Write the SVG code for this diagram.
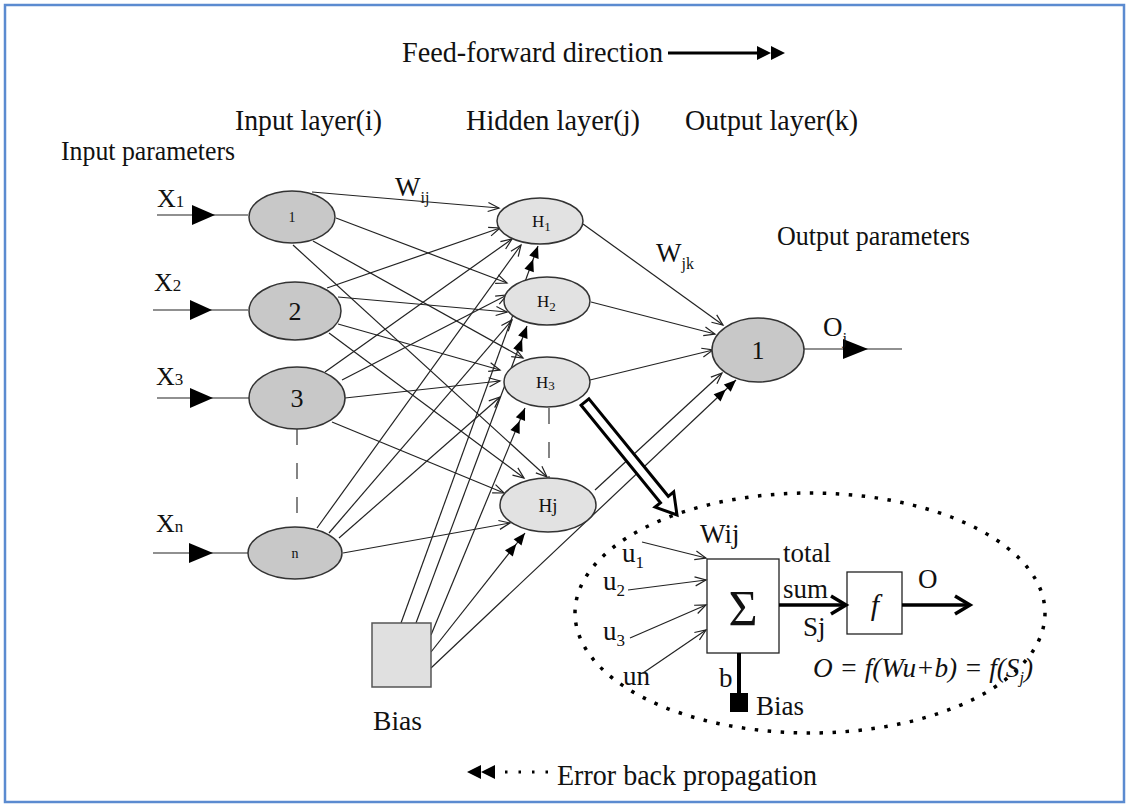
<svg xmlns="http://www.w3.org/2000/svg" width="1129" height="807" viewBox="0 0 1129 807" font-family="'Liberation Serif', Tinos, 'Times New Roman', Times, serif">
<defs>
<style>
text{font-family:"Liberation Serif",Tinos,"Times New Roman",Times,serif;fill:#111}
.ln{stroke:#222;stroke-width:1.2;fill:none}
.ia{marker-end:url(#open)}
.ba{marker-end:url(#dbl)}
.inode{fill:#c8c8c8;stroke:#333;stroke-width:1.5}
.hnode{fill:#e2e2e2;stroke:#333;stroke-width:1.5}
.dash{stroke:#333;stroke-width:1.2;stroke-dasharray:16 18;fill:none}
.h{font-size:29px}
.p{font-size:27px}
.x{font-size:26px}
.thick{stroke:#000;stroke-width:3.5;fill:none}
</style>
<marker id="open" markerUnits="userSpaceOnUse" viewBox="-12 -6 14 12" refX="0" refY="0" markerWidth="14" markerHeight="12" orient="auto"><path d="M-11,-4.5 L0,0 L-11,4.5" fill="none" stroke="#222" stroke-width="1.2"/></marker>
<marker id="dbl" markerUnits="userSpaceOnUse" viewBox="-28 -7 30 14" refX="0" refY="0" markerWidth="30" markerHeight="14" orient="auto"><path d="M0,0 L-12,-5 L-12,5 Z M-14,0 L-26,-5 L-26,5 Z" fill="#000"/></marker>
</defs>
<rect x="0" y="0" width="1129" height="807" fill="#fff"/>
<rect x="5" y="5" width="1119" height="797" fill="none" stroke="#5b8bd0" stroke-width="2.5"/>

<g id="titles">
<text x="402" y="62" class="h" textLength="261" lengthAdjust="spacingAndGlyphs">Feed-forward direction</text>
<line x1="668" y1="53" x2="760" y2="53" stroke="#000" stroke-width="3"/>
<polygon points="757,46 771,53 757,60" fill="#000"/>
<polygon points="771,46 785,53 771,60" fill="#000"/>
<text x="235" y="130" class="h" textLength="147" lengthAdjust="spacingAndGlyphs">Input layer(i)</text>
<text x="466" y="130" class="h" textLength="174" lengthAdjust="spacingAndGlyphs">Hidden layer(j)</text>
<text x="685" y="130" class="h" textLength="173" lengthAdjust="spacingAndGlyphs">Output layer(k)</text>
<text x="61" y="160" class="p" textLength="174" lengthAdjust="spacingAndGlyphs">Input parameters</text>
<text x="777" y="245" class="p" textLength="193" lengthAdjust="spacingAndGlyphs">Output parameters</text>
<text x="395" y="196" class="p">W<tspan font-size="16" dy="7">ij</tspan></text>
<text x="656" y="262" class="p">W<tspan font-size="16" dy="7">jk</tspan></text>
</g>

<g id="connectors">
<line class="ln" x1="157" y1="215" x2="248" y2="215"/>
<polygon points="192,205 215,215 192,225" fill="#000"/>
<line class="ln" x1="153" y1="310" x2="248" y2="310"/>
<polygon points="190,300 212,310 190,320" fill="#000"/>
<line class="ln" x1="157" y1="398" x2="249" y2="398"/>
<polygon points="190,388 213,398 190,408" fill="#000"/>
<line class="ln" x1="153" y1="553" x2="248" y2="553"/>
<polygon points="189,543 213,553 189,563" fill="#000"/>
<line class="ln ia" x1="312" y1="192" x2="499" y2="208"/>
<line class="ln ia" x1="327" y1="288" x2="500" y2="228"/>
<line class="ln ia" x1="325" y1="372" x2="512" y2="239"/>
<line class="ln ia" x1="317" y1="528" x2="521" y2="245"/>
<line class="ln ia" x1="336" y1="218" x2="507" y2="283"/>
<line class="ln ia" x1="342" y1="380" x2="507" y2="295"/>
<line class="ln ia" x1="338" y1="297" x2="507" y2="312"/>
<line class="ln ia" x1="329" y1="533" x2="512" y2="320"/>
<line class="ln ia" x1="313" y1="241" x2="523" y2="358"/>
<line class="ln ia" x1="338" y1="324" x2="500" y2="370"/>
<line class="ln ia" x1="345" y1="398" x2="500" y2="381"/>
<line class="ln ia" x1="339" y1="538" x2="500" y2="397"/>
<line class="ln ia" x1="293" y1="245" x2="547" y2="477"/>
<line class="ln ia" x1="329" y1="333" x2="524" y2="478"/>
<line class="ln ia" x1="332" y1="422" x2="504" y2="493"/>
<line class="ln ia" x1="343" y1="553" x2="510" y2="523"/>
<line class="ln ba" x1="401" y1="623" x2="538" y2="246"/>
<line class="ln ba" x1="416" y1="623" x2="527" y2="326"/>
<line class="ln ba" x1="431" y1="635" x2="525" y2="408"/>
<line class="ln ba" x1="431" y1="652" x2="525" y2="533"/>
<line class="ln ba" x1="431" y1="668" x2="736" y2="380"/>
<line class="ln ia" x1="583" y1="224" x2="723" y2="325"/>
<line class="ln ia" x1="591" y1="302" x2="715" y2="334"/>
<line class="ln ia" x1="590" y1="380" x2="713" y2="350"/>
<line class="ln ia" x1="595" y1="490" x2="722" y2="373"/>
<line class="ln" x1="804" y1="349" x2="902" y2="349"/>
<polygon points="843,339 868,349 843,359" fill="#000"/>
<line class="dash" x1="297" y1="429" x2="297" y2="528"/>
<line class="dash" x1="549" y1="408" x2="549" y2="478"/>
<polygon points="581.1,405.2 660.5,502.7 655.1,507.1 677,515 673.7,491.9 668.3,496.3 588.9,398.8" fill="#fff" stroke="#000" stroke-width="3" stroke-linejoin="miter"/>
</g>

<g id="input-1"><ellipse class="inode" cx="292" cy="217" rx="43" ry="26"/><text x="292" y="222" font-size="14" text-anchor="middle">1</text></g>
<g id="input-2"><ellipse class="inode" cx="295" cy="311" rx="46" ry="29"/><text x="295" y="320" font-size="26" text-anchor="middle">2</text></g>
<g id="input-3"><ellipse class="inode" cx="297" cy="398" rx="48" ry="31"/><text x="297" y="407" font-size="26" text-anchor="middle">3</text></g>
<g id="input-n"><ellipse class="inode" cx="295" cy="553" rx="47" ry="26"/><text x="295" y="558" font-size="14" text-anchor="middle">n</text></g>
<g id="x-labels">
<text x="157" y="207" class="x">X<tspan font-size="17">1</tspan></text>
<text x="154" y="291" class="x">X<tspan font-size="17">2</tspan></text>
<text x="156" y="385" class="x">X<tspan font-size="17">3</tspan></text>
<text x="156" y="532" class="x">X<tspan font-size="17">n</tspan></text>
</g>

<g id="hidden-1"><ellipse class="hnode" cx="540" cy="221" rx="43" ry="23"/><text x="532" y="227" font-size="17">H<tspan font-size="13" dy="4">1</tspan></text></g>
<g id="hidden-2"><ellipse class="hnode" cx="547" cy="301" rx="43" ry="24"/><text x="537" y="307" font-size="17">H<tspan font-size="13" dy="4">2</tspan></text></g>
<g id="hidden-3"><ellipse class="hnode" cx="547" cy="382" rx="43" ry="25"/><text x="536" y="388" font-size="17">H<tspan font-size="13" dy="2">3</tspan></text></g>
<g id="hidden-j"><ellipse class="hnode" cx="548" cy="505" rx="48" ry="27"/><text x="548" y="512" font-size="19" text-anchor="middle">Hj</text></g>

<g id="output-1"><ellipse class="inode" cx="758" cy="350" rx="46" ry="32"/><text x="758" y="359" font-size="26" text-anchor="middle">1</text>
<text x="823" y="336" class="p">O<tspan font-size="16" dy="8">j</tspan></text></g>

<g id="bias"><rect x="372" y="623" width="59" height="64" fill="#e0e0e0" stroke="#555" stroke-width="1.5"/>
<text x="373" y="730" class="p" textLength="49" lengthAdjust="spacingAndGlyphs">Bias</text></g>

<g id="neuron">
<ellipse cx="810" cy="613" rx="235" ry="120" fill="none" stroke="#000" stroke-width="3.5" stroke-dasharray="3.5 9.5"/>
<rect x="707" y="559" width="72" height="94" fill="#fff" stroke="#222" stroke-width="1.3"/>
<text x="743" y="625" font-size="50" text-anchor="middle">Σ</text>
<rect x="847" y="572" width="55" height="62" fill="#fff" stroke="#222" stroke-width="1.3"/>
<text x="875" y="615" font-size="30" font-style="italic" text-anchor="middle">f</text>
<line class="thick" x1="779" y1="605" x2="844" y2="605"/>
<path class="thick" d="M831,596 L846,605 L831,614"/>
<line class="thick" x1="902" y1="605" x2="968" y2="605"/>
<path class="thick" d="M955,596 L970,605 L955,614"/>
<text x="918" y="588" class="p">O</text>
<text x="783" y="562" class="p">total</text>
<text x="783" y="598" class="p">sum</text>
<text x="803" y="636" class="p">Sj</text>
<text x="700" y="543" class="p">Wij</text>
<text x="622" y="562" class="p">u<tspan font-size="17" dy="6">1</tspan></text>
<text x="603" y="590" class="p">u<tspan font-size="17" dy="6">2</tspan></text>
<text x="603" y="640" class="p">u<tspan font-size="17" dy="6">3</tspan></text>
<text x="623" y="685" class="p">un</text>
<line class="ln ia" x1="642" y1="542" x2="706" y2="558"/>
<line class="ln ia" x1="628" y1="590" x2="706" y2="580"/>
<line class="ln ia" x1="630" y1="638" x2="706" y2="605"/>
<line class="ln ia" x1="643" y1="673" x2="706" y2="630"/>
<text x="719" y="687" class="p">b</text>
<line x1="739" y1="653" x2="739" y2="697" stroke="#000" stroke-width="4"/>
<rect x="730" y="693" width="18" height="19" fill="#000"/>
<text x="756" y="715" class="p">Bias</text>
<text x="813" y="677" class="p" font-style="italic" textLength="220" lengthAdjust="spacingAndGlyphs">O = f(Wu+b) = f(S<tspan font-size="16" dy="6">j</tspan><tspan dy="-6">)</tspan></text>
</g>

<g id="legend">
<polygon points="467,772 481,765 481,779" fill="#000"/>
<polygon points="481,772 495,765 495,779" fill="#000"/>
<line x1="505" y1="772" x2="548" y2="772" stroke="#000" stroke-width="3" stroke-dasharray="2.5 11"/>
<text x="557" y="785" class="h" textLength="260" lengthAdjust="spacingAndGlyphs">Error back propagation</text>
</g>
</svg>
